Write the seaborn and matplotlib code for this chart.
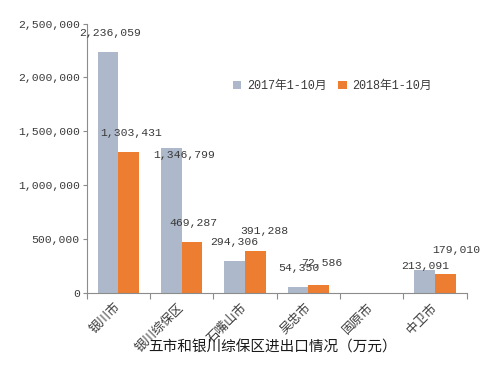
import numpy as np
import pandas as pd
import matplotlib
matplotlib.use("Agg")
import matplotlib.pyplot as plt
import seaborn as sns

# Data (万元)
regions = ["银川市", "银川综保区", "石嘴山市", "吴忠市", "固原市", "中卫市"]
years = ["2017年1-10月", "2018年1-10月"]
values_2017 = [2236059, 1346799, 294306, 54350, 0, 213091]
values_2018 = [1303431, 469287, 391288, 72586, 0, 179010]
y_ticks = [0, 500000, 1000000, 1500000, 2000000, 2500000]
chart_title = "五市和银川综保区进出口情况（万元）"

colors = ["#ADB9CA", "#ED7D31"]
# data label offsets from each bar top, in pixels (dx, dy); hand placed like the original
offsets_2017 = [(2, 19), (13, -7), (0, 19), (1, 19), (0, 0), (1, 4)]
offsets_2018 = [(2, 19), (1, 19), (9, 20), (3, 22), (0, 0), (11, 24)]

AXIS_GRAY = "#8C8C8C"
TEXT_GRAY = "#3A3A3A"
MONO_CJK = ["Liberation Mono", "Noto Sans CJK SC"]
CJK = ["Noto Sans CJK SC", "DejaVu Sans"]


def main():
    df = pd.DataFrame({
        "region": regions * 2,
        "year": [years[0]] * len(regions) + [years[1]] * len(regions),
        "value": values_2017 + values_2018,
    })

    sns.set_theme(style="white")
    plt.rcParams["font.family"] = MONO_CJK

    fig = plt.figure(figsize=(5.0, 3.72), dpi=100)
    ax = fig.add_axes([0.1734, 0.2124, 0.76, 0.7244])

    sns.barplot(
        data=df, x="region", y="value", hue="year",
        order=regions, hue_order=years, palette=colors,
        width=0.654, saturation=1, errorbar=None, linewidth=0, ax=ax,
    )

    ax.set_xlim(-0.5, len(regions) - 0.5)
    ax.set_ylim(0, 2500000)
    ax.set_yticks(y_ticks)
    ax.set_yticklabels([f"{v:,}" for v in y_ticks], fontsize=8.2, color=TEXT_GRAY)
    ax.tick_params(axis="y", length=3, width=0.8, color=AXIS_GRAY, pad=2, left=True)

    ax.set_xticks(range(len(regions)))
    ax.set_xticklabels(regions, rotation=45, ha="right", va="center",
                       rotation_mode="anchor", family=CJK, fontsize=9, color=TEXT_GRAY)
    ax.tick_params(axis="x", which="major", length=0, pad=9)
    ax.set_xticks(np.arange(-0.5, len(regions), 1), minor=True)
    ax.tick_params(axis="x", which="minor", length=4, width=0.8, color=AXIS_GRAY, bottom=True)

    ax.set_xlabel("")
    ax.set_ylabel("")
    for side in ["top", "right"]:
        ax.spines[side].set_visible(False)
    for side in ["left", "bottom"]:
        ax.spines[side].set_color(AXIS_GRAY)
        ax.spines[side].set_linewidth(0.8)

    # value labels
    px = 0.72  # points per pixel at 100 dpi
    for container, vals, offs in zip(ax.containers, [values_2017, values_2018],
                                     [offsets_2017, offsets_2018]):
        for bar, v, (dx, dy) in zip(container, vals, offs):
            if v == 0:
                continue
            ax.annotate(f"{v:,}", (bar.get_x() + bar.get_width() / 2, bar.get_height()),
                        xytext=(dx * px, dy * px), textcoords="offset points",
                        ha="center", va="center", fontsize=8.2, color=TEXT_GRAY)

    handles, labels = ax.get_legend_handles_labels()
    ax.legend(handles, labels, ncol=2, frameon=False, loc="center left",
              bbox_to_anchor=(0.385, 0.768), borderpad=0, borderaxespad=0,
              handlelength=0.7, handleheight=0.7, handletextpad=0.5,
              columnspacing=1.0, prop={"family": MONO_CJK, "size": 8.5},
              labelcolor=TEXT_GRAY)

    fig.text(273 / 500, 1 - 348 / 372, chart_title, ha="center", va="center",
             fontsize=10.5, family=CJK, color="#1A1A1A")

    fig.savefig("out.png", dpi=100)


if __name__ == "__main__":
    main()
